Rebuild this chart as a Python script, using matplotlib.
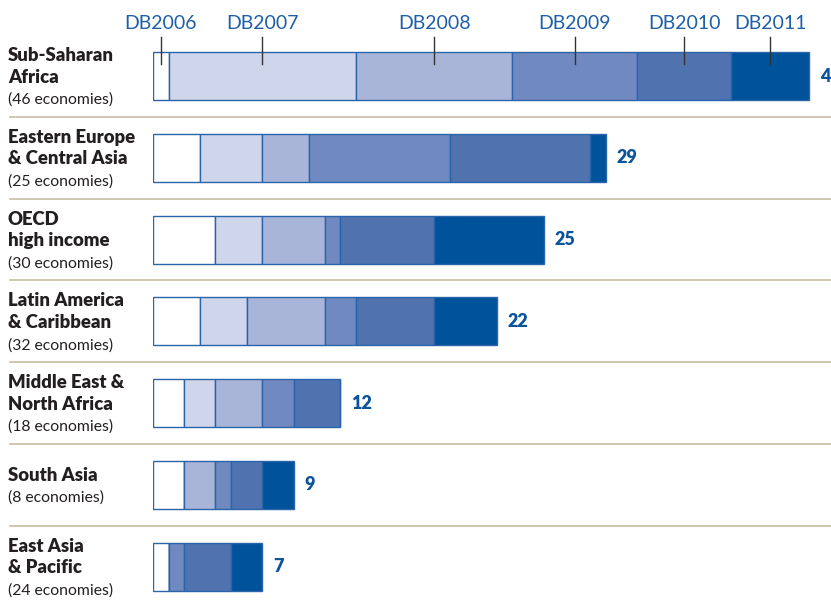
import numpy as np
from matplotlib import pyplot as plt

# reforms per region, stacked by report year
regions = [["Sub-Saharan", "Africa"],
           ["Eastern Europe", "& Central Asia"],
           ["OECD", "high income"],
           ["Latin America", "& Caribbean"],
           ["Middle East &", "North Africa"],
           ["South Asia"],
           ["East Asia", "& Pacific"]]
economies = [46, 25, 30, 32, 18, 8, 24]

years = ["DB2006", "DB2007", "DB2008", "DB2009", "DB2010", "DB2011"]
db2006 = [1, 3, 4, 3, 2, 2, 1]
db2007 = [12, 4, 3, 3, 2, 0, 0]
db2008 = [10, 3, 4, 5, 3, 2, 0]
db2009 = [8, 9, 1, 2, 2, 1, 1]
db2010 = [6, 9, 6, 5, 3, 2, 3]
db2011 = [5, 1, 7, 4, 0, 2, 2]

colors = ["#ffffff", "#cfd5ea", "#a9b5d8", "#7089c0", "#5073b0", "#00529b"]
edge = "#2a64ab"
textblue = "#0b539b"

W, H = 831, 600
x0 = 153.0      # px where bars start
pxu = 15.62     # px per unit
row0 = 76.0     # px centre of first row
rowstep = 81.75

fig = plt.figure(figsize=(W / 100, H / 100), dpi=100)
ax = fig.add_axes([x0 / W, 0, 1 - x0 / W, 1])
ax.set_xlim(0, (W - x0) / pxu)
ax.set_ylim((H - row0) / rowstep, -row0 / rowstep)
ax.axis("off")

data = np.array([db2006, db2007, db2008, db2009, db2010, db2011])
ypos = np.arange(len(regions))
left = np.zeros(len(regions))
for k in range(len(years)):
    ax.barh(ypos, data[k], left=left, height=48 / rowstep, color=colors[k],
            edgecolor=edge, linewidth=1.0)
    left = left + data[k]
totals = left

def py(px):
    return (px - row0) / rowstep

# year labels with leader lines on the first bar
starts = np.cumsum(data[:, 0]) - data[:, 0]
for k, name in enumerate(years):
    xc = starts[k] + data[k, 0] / 2.0
    ax.plot([xc, xc], [py(37), py(64)], color="#333333", lw=1.0)
    ax.text(xc, py(23), name, color="#1f5fa8", fontsize=14,
            family="Lato", ha="center", va="center")

# totals (the first one runs off the right edge, as in the source)
for i, t in enumerate(totals):
    ax.text(t + 11 / pxu, i, "%d" % t, color=textblue, fontsize=13,
            fontweight="heavy", family="Lato", ha="left", va="center")

# separators
xl = (10 - x0) / pxu
for i in range(len(regions) - 1):
    ax.plot([xl, (W - x0) / pxu], [i + 0.5, i + 0.5], color="#c8bda4",
            lw=1.2, clip_on=False)

# region labels
xt = (8 - x0) / pxu
for i, lines in enumerate(regions):
    n = len(lines) + 1
    for j in range(n):
        yc = i + (j - (n - 1) / 2.0) * 21.5 / rowstep
        yb = yc + 6.5 / rowstep
        if j < len(lines):
            ax.text(xt, yb, lines[j], fontsize=13.3, fontweight="heavy",
                    family="Lato", color="#231f20", ha="left", va="baseline",
                    clip_on=False)
        else:
            ax.text(xt, yb, "(%d economies)" % economies[i], fontsize=11.3,
                    family="Lato", color="#231f20", ha="left",
                    va="baseline", clip_on=False)

fig.savefig("out.png", dpi=100)
